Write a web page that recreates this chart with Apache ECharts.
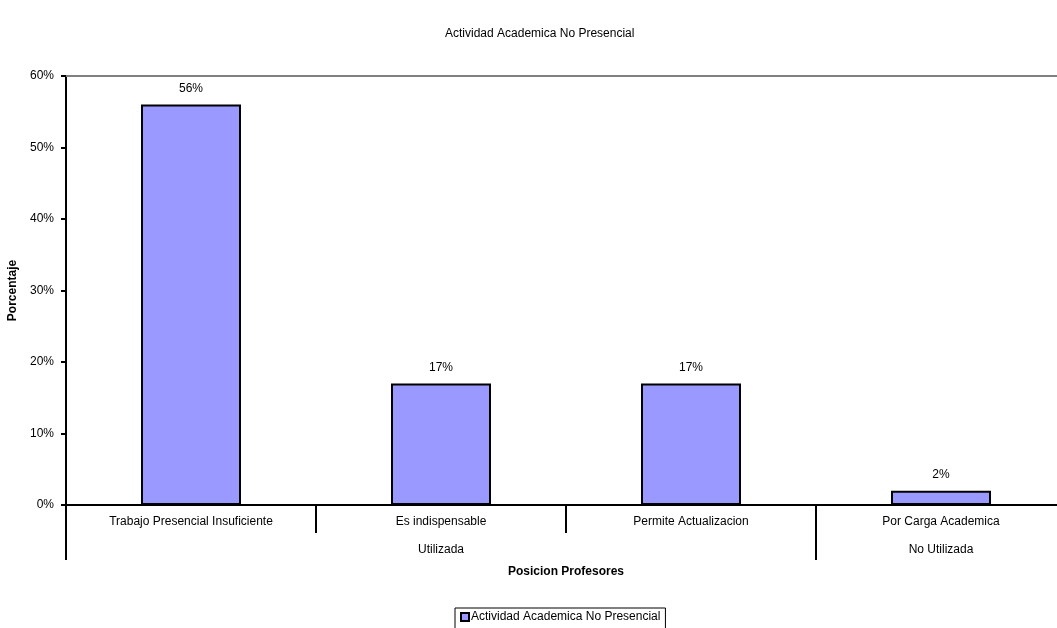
<!DOCTYPE html>
<html>
<head>
<meta charset="utf-8">
<script src="https://cdn.jsdelivr.net/npm/echarts@6/dist/echarts.min.js"></script>
<style>
  html, body { margin: 0; padding: 0; background: #fff; }
  #chart { width: 1057px; height: 628px; }
</style>
</head>
<body>
<div id="chart"></div>
<script>
// Survey answers: reasons given by teachers about non-face-to-face academic activity
const categories = ['Trabajo Presencial Insuficiente', 'Es indispensable', 'Permite Actualizacion', 'Por Carga Academica'];
const values = [56, 17, 17, 2];           // percent of answers
const groups = ['Utilizada', 'No Utilizada'];
const groupSizes = [3, 1];                 // how many categories each group spans
const yTicks = [0, 10, 20, 30, 40, 50, 60];
const seriesName = 'Actividad Academica No Presencial';

// Group boundaries and centres, in category units
const groupEdges = [0];
const groupCenters = [];
groupSizes.forEach(function (n, i) {
  const start = groupEdges[groupEdges.length - 1];
  groupCenters.push(start + n / 2);
  groupEdges.push(start + n);
});

const FONT = 'Liberation Sans, Arial, sans-serif';
const txt = { fontFamily: FONT, fontSize: 12, color: '#000' };

const chart = echarts.init(document.getElementById('chart'), null, { renderer: 'canvas' });
chart.setOption({
  backgroundColor: '#fff',
  animation: false,
  title: {
    text: seriesName,
    left: 440, top: 23,
    textStyle: Object.assign({}, txt, { fontWeight: 'normal' })
  },
  legend: {
    data: [seriesName],
    left: 455, top: 608,
    padding: [3, 5, 6, 5],
    borderColor: '#000', borderWidth: 1,
    itemWidth: 8, itemHeight: 8, itemGap: 2,
    textStyle: Object.assign({}, txt, { padding: [0, 0, 0, -3] }),
    icon: 'rect'
  },
  // plot area runs a little past the right edge of the canvas
  grid: { left: 66, top: 76, right: -9, bottom: 123, outerBoundsMode: 'none', containLabel: false },
  xAxis: [
    {
      type: 'category',
      data: categories,
      position: 'bottom',
      axisLine: { lineStyle: { color: '#000', width: 2 } },
      axisTick: { show: true, interval: 0, length: 28, alignWithLabel: false, lineStyle: { color: '#000', width: 2 } },
      axisLabel: Object.assign({}, txt, { interval: 0, margin: 11 }),
      splitLine: { show: false },
      name: 'Posicion Profesores',
      nameLocation: 'middle',
      nameGap: 61,
      nameTextStyle: Object.assign({}, txt, { fontWeight: 'bold' })
    },
    {
      // group level below the categories
      type: 'value',
      min: 0, max: categories.length,
      position: 'bottom',
      axisLine: { show: false },
      axisTick: { show: true, customValues: groupEdges, length: 55, lineStyle: { color: '#000', width: 2 } },
      axisLabel: Object.assign({}, txt, {
        customValues: groupCenters,
        margin: 39,
        formatter: function (v) {
          const i = groupCenters.indexOf(v);
          return i >= 0 ? groups[i] : '';
        }
      }),
      splitLine: { show: false }
    },
    {
      // top border line of the plot
      type: 'category',
      data: categories,
      position: 'top',
      axisLine: { lineStyle: { color: '#808080', width: 2 } },
      axisTick: { show: false },
      axisLabel: { show: false },
      splitLine: { show: false }
    }
  ],
  yAxis: {
    type: 'value',
    min: yTicks[0], max: yTicks[yTicks.length - 1], interval: yTicks[1] - yTicks[0],
    axisLine: { show: true, lineStyle: { color: '#000', width: 2 } },
    axisTick: { show: true, length: 5, lineStyle: { color: '#000', width: 2 } },
    axisLabel: Object.assign({}, txt, { margin: 12, formatter: '{value}%' }),
    splitLine: { show: false },
    name: 'Porcentaje',
    nameLocation: 'middle',
    nameGap: 44,
    nameRotate: 90,
    nameTextStyle: Object.assign({}, txt, { fontWeight: 'bold' })
  },
  series: [{
    name: seriesName,
    type: 'bar',
    xAxisIndex: 0,
    data: values,
    barWidth: '40%',
    itemStyle: { color: '#9999FF', borderColor: '#000', borderWidth: 2 },
    label: {
      show: true, position: 'top', distance: 10,
      formatter: '{c}%',
      fontFamily: FONT, fontSize: 12, color: '#000'
    }
  }]
});
</script>
</body>
</html>
